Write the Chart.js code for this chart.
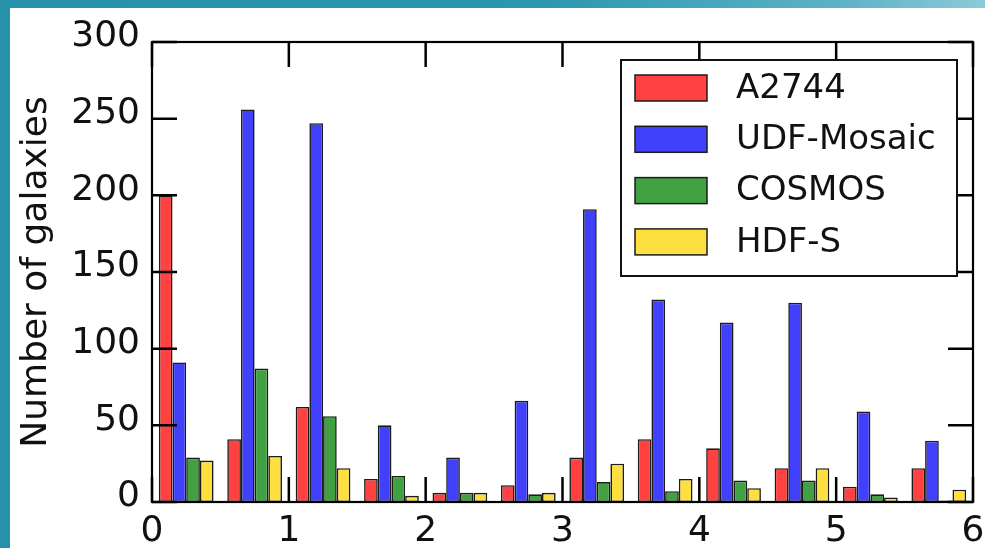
<!DOCTYPE html>
<html>
<head>
<meta charset="utf-8">
<title>Number of galaxies per redshift bin</title>
<script src="https://cdn.jsdelivr.net/npm/chart.js@4.4.1/dist/chart.umd.min.js"></script>
<style>
  html, body { margin: 0; padding: 0; }
  body {
    width: 985px; height: 548px; overflow: hidden; position: relative;
    background: linear-gradient(90deg, #2791ab 0%, #2b97af 55%, #5cb2c6 85%, #8ccad8 100%);
  }
  #panel { position: absolute; left: 10px; top: 8px; width: 975px; height: 540px; background: #fff; }
  canvas { display: block; }
</style>
</head>
<body>
<div id="panel"><canvas id="chart" width="975" height="540"></canvas></div>
<script>
// Redshift bins, 0.5 wide, from z = 0 to z = 6
const bins = ['0–0.5', '0.5–1', '1–1.5', '1.5–2', '2–2.5', '2.5–3',
              '3–3.5', '3.5–4', '4–4.5', '4.5–5', '5–5.5', '5.5–6'];

// Galaxy counts per bin for each field
const a2744     = [200, 41, 62, 15, 6, 11, 29, 41, 35, 22, 10, 22];
const udfMosaic = [91, 256, 247, 50, 29, 66, 191, 132, 117, 130, 59, 40];
const cosmos    = [29, 87, 56, 17, 6, 5, 13, 7, 14, 14, 5, 1];
const hdfS      = [27, 30, 22, 4, 6, 6, 25, 15, 9, 22, 3, 8];

const seriesNames = ['A2744', 'UDF-Mosaic', 'COSMOS', 'HDF-S'];

// Axis tick values
const xTickValues = [0, 1, 2, 3, 4, 5, 6];
const yTickValues = [0, 50, 100, 150, 200, 250, 300];

const FONT = '"DejaVu Sans", "Liberation Sans", sans-serif';
const INK = '#111';

// Closed frame with inward tick marks on all four sides
const frameTicks = {
  id: 'frameTicks',
  afterDatasetsDraw(chart) {
    const { ctx, chartArea: a, scales } = chart;
    const len = 25;
    ctx.save();
    ctx.strokeStyle = '#000';
    ctx.lineWidth = 2.5;
    ctx.beginPath();
    scales.xt.ticks.forEach(t => {
      const x = scales.xt.getPixelForValue(t.value);
      ctx.moveTo(x, a.bottom); ctx.lineTo(x, a.bottom - len);
      ctx.moveTo(x, a.top);    ctx.lineTo(x, a.top + len);
    });
    scales.y.ticks.forEach(t => {
      const y = scales.y.getPixelForValue(t.value);
      ctx.moveTo(a.left, y);  ctx.lineTo(a.left + len, y);
      ctx.moveTo(a.right, y); ctx.lineTo(a.right - len, y);
    });
    ctx.stroke();
    ctx.lineWidth = 2.2;
    ctx.strokeRect(a.left, a.top, a.right - a.left, a.bottom - a.top);
    ctx.restore();
  }
};

// Boxed legend placed in the upper right corner of the plot area
const insetLegend = {
  id: 'insetLegend',
  afterDraw(chart) {
    const { ctx, chartArea: a } = chart;
    const left = a.right - 352, right = a.right - 16;
    const top = a.top + 18, bottom = a.top + 234;
    ctx.save();
    ctx.fillStyle = '#fff';
    ctx.fillRect(left, top, right - left, bottom - top);
    ctx.strokeStyle = '#111';
    ctx.lineWidth = 2;
    ctx.strokeRect(left, top, right - left, bottom - top);
    ctx.font = '34px ' + FONT;
    ctx.textBaseline = 'middle';
    ctx.textAlign = 'left';
    chart.data.datasets.forEach((ds, i) => {
      const cy = top + 28 + i * 51.3;
      ctx.fillStyle = ds.backgroundColor;
      ctx.fillRect(left + 14, cy - 13, 72, 26);
      ctx.strokeStyle = ds.borderColor;
      ctx.lineWidth = 1.5;
      ctx.strokeRect(left + 14, cy - 13, 72, 26);
      ctx.fillStyle = INK;
      ctx.fillText(ds.label, left + 115, cy + 1);
    });
    ctx.restore();
  }
};

const fills = ['#ff4141', '#4141fb', '#41a041', '#fedf40'];
const values = [a2744, udfMosaic, cosmos, hdfS];

new Chart(document.getElementById('chart'), {
  type: 'bar',
  data: {
    labels: bins,
    datasets: values.map((v, i) => ({
      label: seriesNames[i],
      data: v,
      backgroundColor: fills[i],
      borderColor: '#1c1c1c',
      borderWidth: 1.6,
      borderSkipped: false,
      categoryPercentage: 0.8,
      barPercentage: 1.0
    }))
  },
  options: {
    responsive: false,
    animation: false,
    devicePixelRatio: 1,
    layout: { padding: { left: 0, top: 34, right: 12, bottom: 0 } },
    plugins: { legend: { display: false }, tooltip: { enabled: false } },
    scales: {
      x: { type: 'category', display: false, offset: true, grid: { display: false } },
      xt: {
        type: 'linear', position: 'bottom', min: 0, max: 6, offset: false,
        afterBuildTicks: s => { s.ticks = xTickValues.map(v => ({ value: v })); },
        grid: { display: false, drawTicks: false, offset: false },
        border: { display: false },
        ticks: { font: { family: FONT, size: 36 }, color: INK, padding: 8, maxRotation: 0 },
        afterFit: s => { s.height = 46; s.paddingLeft = 0; s.paddingRight = 0; }
      },
      y: {
        min: 0, max: 300,
        afterBuildTicks: s => { s.ticks = yTickValues.map(v => ({ value: v })); },
        grid: { display: false, drawTicks: false },
        border: { display: false },
        ticks: { font: { family: FONT, size: 36 }, color: INK, padding: 12, labelOffset: -5 },
        title: {
          display: true, text: 'Number of galaxies', color: INK,
          font: { family: FONT, size: 36 }, padding: { top: 5, bottom: 0 }
        },
        afterFit: s => { s.width = 142; s.paddingTop = 0; s.paddingBottom = 0; }
      }
    }
  },
  plugins: [frameTicks, insetLegend]
});
</script>
</body>
</html>
